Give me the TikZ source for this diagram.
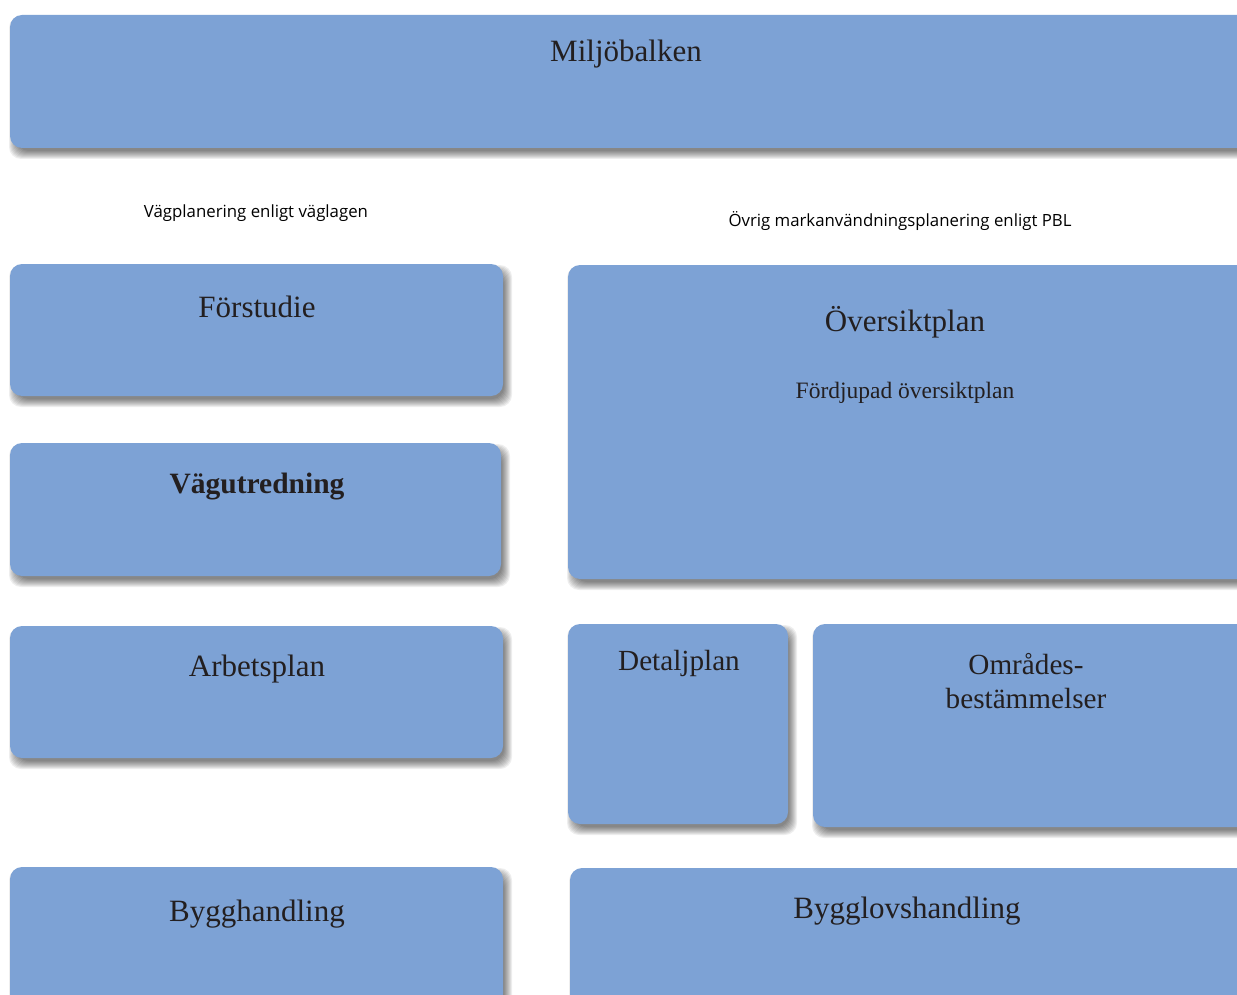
\documentclass[tikz,border=0pt]{standalone}
\usepackage{fontspec}
\setmainfont{Liberation Serif}
\newfontfamily\labfont{Open Sans}
\definecolor{boxblue}{RGB}{125,162,213}
\definecolor{txt}{RGB}{35,31,32}
\tikzset{
  pbox/.style={fill=boxblue, draw=none, rounded corners=12pt},
  shlayer/.style={fill=black, fill opacity=0.065, draw=none, rounded corners=12pt},
  btext/.style={text=txt, font=\fontsize{31}{36}\selectfont, inner sep=0pt, align=center},
  ntext/.style={text=txt, font=\fontsize{29.2}{34}\selectfont, inner sep=0pt, align=center},
  stext/.style={text=txt, font=\fontsize{23.5}{28}\selectfont, inner sep=0pt},
  ltext/.style={text=black, font=\labfont\fontsize{16.8}{19}\selectfont, inner sep=0pt}
}
\newcommand\mkshadowbox[5]{%
  \foreach \r in {-3,-2,...,5}{%
    \path[shlayer] ({#1+4-\r},{#2+6-\r}) rectangle ({#3+4+\r},{#4+6+\r});
  }%
  \path[pbox] (#1,#2) rectangle (#3,#4) coordinate (#5);
}
\begin{document}
\begin{tikzpicture}[x=1pt,y=-1pt]
\useasboundingbox (0,0) rectangle (1237,995);
\clip (0,0) rectangle (1237,995);
\fill[white] (0,0) rectangle (1237,995);
% boxes
\mkshadowbox{10}{15}{1260}{148}{mbox}
\node[btext] (mb) at (626,54) {Miljöbalken};
\node[ltext] (lv) at (256,213) {Vägplanering enligt väglagen};
\node[ltext] (lp) at (900,221) {Övrig markanvändningsplanering enligt PBL};
\mkshadowbox{10}{264}{503}{396}{fbox}
\node[btext] (fs) at (257,307) {Förstudie};
\mkshadowbox{10}{443}{501}{576}{vbox}
\node[btext, font=\fontsize{29.5}{34}\selectfont\bfseries] (vu) at (257,487) {Vägutredning};
\mkshadowbox{10}{626}{503}{758}{abox}
\node[btext] (ap) at (257,669) {Arbetsplan};
\mkshadowbox{10}{867}{503}{1030}{bbox}
\node[btext] (bh) at (257,914) {Bygghandling};
\mkshadowbox{568}{265}{1260}{579}{obox}
\node[btext] (op) at (905,322) {Översiktplan};
\node[stext] (fo) at (905,393) {Fördjupad översiktplan};
\mkshadowbox{568}{624}{788}{824}{dbox}
\node[ntext] (dp) at (679,663) {Detaljplan};
\mkshadowbox{813}{624}{1260}{827}{ombox}
\node[ntext] (ob) at (1026,681) {Områdes-\\[-0.5pt]bestämmelser};
\mkshadowbox{570}{868}{1260}{1030}{blbox}
\node[btext] (bl) at (907,911) {Bygglovshandling};
\end{tikzpicture}
\end{document}
